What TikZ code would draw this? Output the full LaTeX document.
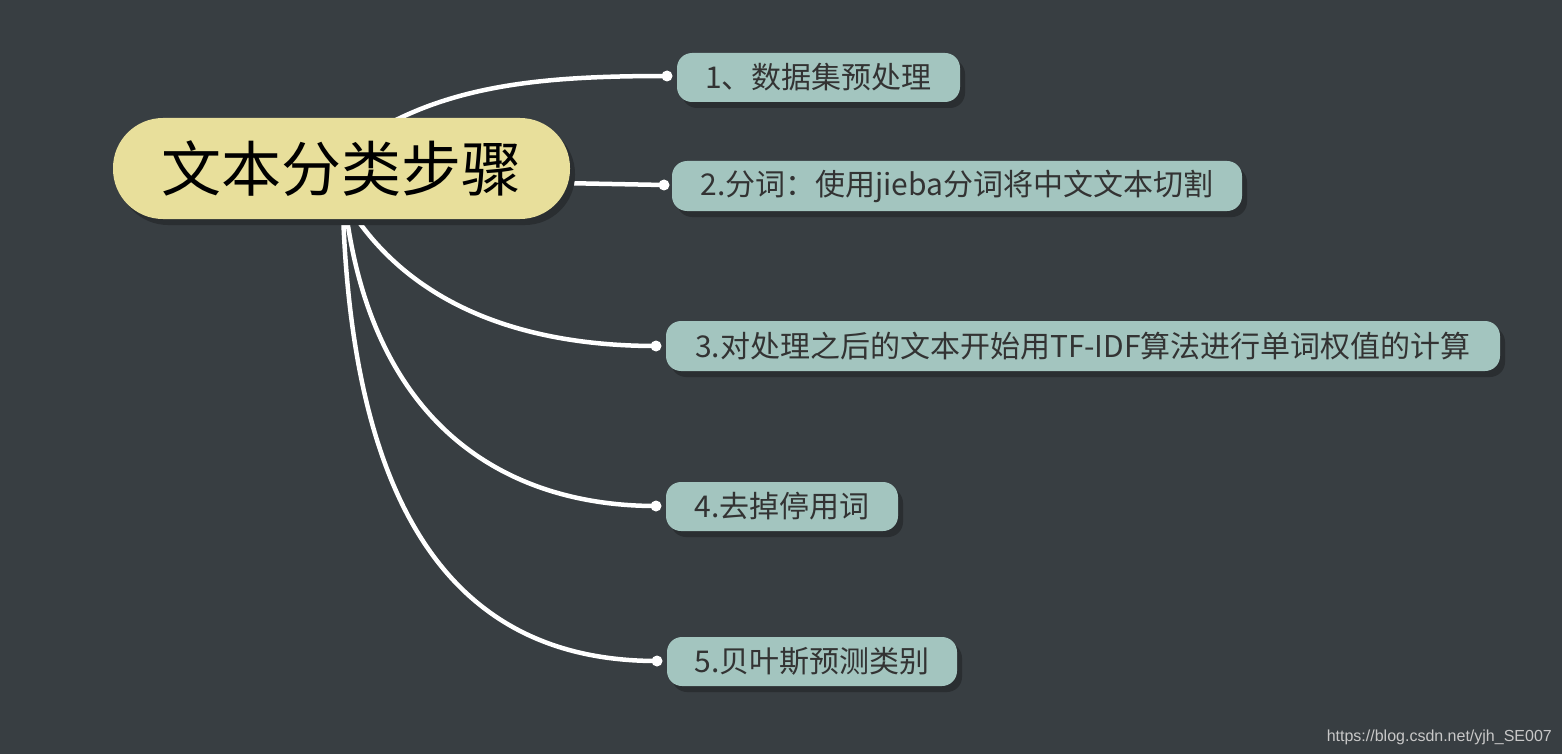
\documentclass[tikz,border=0pt]{standalone}
\usepackage{fontspec}
\setmainfont{Noto Sans CJK SC}
\newfontfamily\wmfont{Liberation Sans}
\usetikzlibrary{shadows}
\definecolor{bgcol}{HTML}{383E42}
\definecolor{rootcol}{HTML}{E8DF9B}
\definecolor{childcol}{HTML}{A3C5BF}
\definecolor{shadecol}{HTML}{2A2E31}
\definecolor{txtcol}{HTML}{333333}
\definecolor{wmcol}{HTML}{C8C8C8}
\tikzset{
  rootbox/.style={fill=rootcol, rounded corners=50pt, inner sep=0pt,
    general shadow={fill=shadecol, shadow xshift=5pt, shadow yshift=-6pt},
    font=\fontsize{60}{62}\selectfont, text=black},
  childbox/.style={fill=childcol, rounded corners=15pt, inner sep=0pt,
    general shadow={fill=shadecol, shadow xshift=5pt, shadow yshift=-6pt},
    font=\fontsize{30}{32}\selectfont, text=txtcol},
  link/.style={draw=white, line width=4.5pt, line cap=round},
  enddot/.style={fill=white, circle, inner sep=0pt, minimum size=11pt}
}
\begin{document}
\begin{tikzpicture}[x=1pt,y=-1pt]
\fill[bgcol] (0,0) rectangle (1562,754);
\useasboundingbox (0,0) rectangle (1562,754);
% connector coordinates
\coordinate (s1) at (392,122);
\coordinate (s2) at (560,183);
\coordinate (s3) at (352,212);
\coordinate (s4) at (346,212);
\coordinate (s5) at (343,212);
\coordinate (d1) at (667,76);
\coordinate (d2) at (664,185);
\coordinate (d3) at (656,346);
\coordinate (d4) at (656,506);
\coordinate (d5) at (657,661);
\draw[link] (s1) .. controls (470,82) and (560,76) .. (d1);
\draw[link] (s2) -- (d2);
\draw[link] (s3) .. controls (420,315) and (540,346) .. (d3);
\draw[link] (s4) .. controls (375,430) and (510,506) .. (d4);
\draw[link] (s5) .. controls (355,560) and (490,661) .. (d5);
\foreach \d in {d1,d2,d3,d4,d5} \node[enddot] at (\d) {};
% nodes
\node[rootbox, minimum width=457pt, minimum height=101pt] (root) at (341.5,168.5) {文本分类步骤};
\node[childbox, minimum width=283pt, minimum height=49pt] (c1) at (818.5,77.5) {1、数据集预处理};
\node[childbox, minimum width=570pt, minimum height=50pt] (c2) at (957,186) {2.分词：使用jieba分词将中文文本切割};
\node[childbox, minimum width=834pt, minimum height=50pt] (c3) at (1083,346) {3.对处理之后的文本开始用TF-IDF算法进行单词权值的计算};
\node[childbox, minimum width=232pt, minimum height=49pt] (c4) at (782,506.5) {4.去掉停用词};
\node[childbox, minimum width=290pt, minimum height=49pt] (c5) at (812,661.5) {5.贝叶斯预测类别};
\node[anchor=base east, font=\wmfont\fontsize{16}{18}\selectfont, text=wmcol, inner sep=0pt] (wm) at (1552,741) {https://blog.csdn.net/yjh\_SE007};
\end{tikzpicture}
\end{document}
